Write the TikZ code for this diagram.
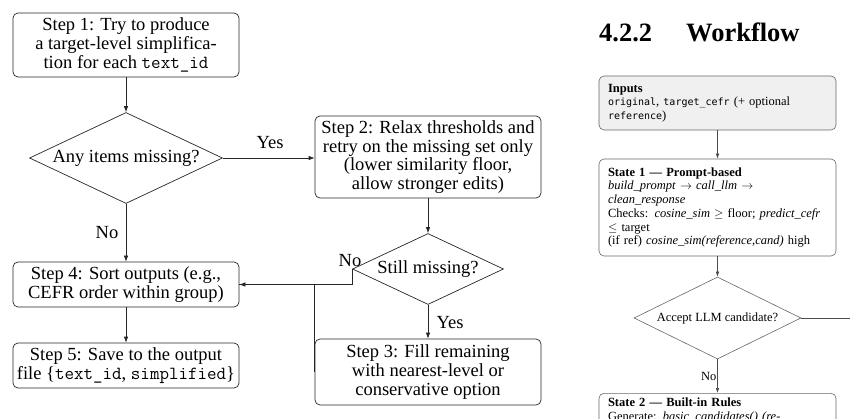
\documentclass[tikz,border=0pt]{standalone}
\usepackage{fontspec}
\setmainfont{Liberation Serif}
\newfontfamily\rmonofam{DejaVu Sans Mono}
\newcommand{\myrtt}[1]{{\rmonofam\fontsize{10}{13.7}\selectfont #1}}
\usetikzlibrary{shapes.geometric,arrows.meta}
\begin{document}
\begin{tikzpicture}[x=1pt,y=-1pt,
  lfont/.style={font=\fontsize{18.5}{19}\selectfont},
  lbox/.style={draw=black!85, line width=0.7pt, rounded corners=5pt, minimum width=226pt, align=center, inner sep=0pt, lfont},
  ldia/.style={draw=black!85, line width=0.7pt, diamond, inner sep=0pt},
  ltxt/.style={inner sep=0pt, lfont},
  larr/.style={draw=black!85, line width=0.7pt, -{Latex[length=6pt,width=4.5pt]}},
  lline/.style={draw=black!85, line width=0.7pt},
  rfont/.style={font=\fontsize{12.5}{13.7}\selectfont},
  rbox/.style={draw=black!60, line width=0.6pt, rounded corners=5pt, text width=219pt, inner xsep=9pt, align=left, rfont},
  rdia/.style={draw=black!60, line width=0.6pt, diamond, inner sep=0pt},
  rtxt/.style={inner sep=0pt, rfont},
  rarr/.style={draw=black!70, line width=0.6pt, -{Latex[length=5pt,width=3.6pt]}},
  rline/.style={draw=black!70, line width=0.6pt}
]
\useasboundingbox (0,0) rectangle (850,419);
\clip (0,0) rectangle (850,419);

% ---------------- left flowchart ----------------
\node[lbox, minimum height=64pt] (step1) at (126,45)
  {Step 1: Try to produce\\a target-level simplifica-\\tion for each \texttt{text\_id}};
\node[ldia, minimum width=193pt, minimum height=91pt] (any) at (126,158) {};
\node[ltxt] (anytxt) at (126,158) {Any items missing?};
\node[lbox, minimum height=82pt] (step2) at (428,157)
  {Step 2: Relax thresholds and\\retry on the missing set only\\[-1pt](lower similarity floor,\\allow stronger edits)};
\node[ldia, minimum width=151pt, minimum height=71pt] (still) at (428,269) {};
\node[ltxt] (stilltxt) at (428,269) {Still missing?};
\node[lbox, minimum height=66pt] (step3) at (428,372)
  {Step 3: Fill remaining\\with nearest-level or\\conservative option};
\node[lbox, minimum height=45pt] (step4) at (126,284.5)
  {Step 4: Sort outputs (e.g.,\\CEFR order within group)};
\node[lbox, minimum height=45pt] (step5) at (126,365.5)
  {Step 5: Save to the output\\file \{\texttt{text\_id}, \texttt{simplified}\}};

\draw[larr] (step1) -- (any);
\draw[larr] (any.east) -- (any.east -| step2.west);
\draw[larr] (any) -- (step4);
\draw[larr] (step2) -- (still);
\draw[larr] (still) -- (step3);
\draw[larr] (still.west) |- (step4.east);
\draw[lline] (step3.west) |- (step4.east);
\draw[larr] (step4) -- (step5);

\node[ltxt] (yes1) at (270,143) {Yes};
\node[ltxt] (no1) at (107,233) {No};
\node[ltxt] (yes2) at (450,323) {Yes};
\node[ltxt] (no2) at (350,261) {No};

% ---------------- right page fragment ----------------
\node[anchor=base west, inner sep=0pt, font=\fontsize{26.5}{30}\selectfont\bfseries] (secnum) at (599,42) {4.2.2};
\node[anchor=base west, inner sep=0pt, font=\fontsize{26.5}{30}\selectfont\bfseries] (sectitle) at (686,42) {Workflow};

\node[rbox, fill=black!6, minimum height=54pt] (inputs) at (717.5,103)
  {\textbf{Inputs}\\
   \myrtt{original}, \myrtt{target\_cefr} (+ optional\\
   \myrtt{reference})};
\node[rbox, minimum height=97pt] (s1) at (717.5,207.5)
  {\textbf{State 1 — Prompt-based}\\
   \textit{build\_prompt} $\rightarrow$ \textit{call\_llm} $\rightarrow$\\
   \textit{clean\_response}\\
   Checks:\enspace\textit{cosine\_sim} $\geq$ floor; \textit{predict\_cefr}\\
   $\leq$ target\\
   (if ref) \textit{cosine\_sim(reference,cand)} high};
\node[rdia, minimum width=167pt, minimum height=82pt] (acc) at (717.5,318) {};
\node[rtxt] (acctxt) at (717.5,318) {Accept LLM candidate?};
\node[rbox, anchor=north, inner ysep=5pt] (s2) at (717.5,393)
  {\textbf{State 2 — Built-in Rules}\\
   Generate: \textit{basic\_candidates() (re-}};
\coordinate (rend) at (850,318);

\draw[rarr] (inputs) -- (s1);
\draw[rarr] (s1) -- (acc);
\draw[rline] (acc.east) -- (rend);
\draw[rarr] (acc) -- (s2);
\node[rtxt, anchor=east] (no3) at (716.5,376) {No};
\end{tikzpicture}
\end{document}
